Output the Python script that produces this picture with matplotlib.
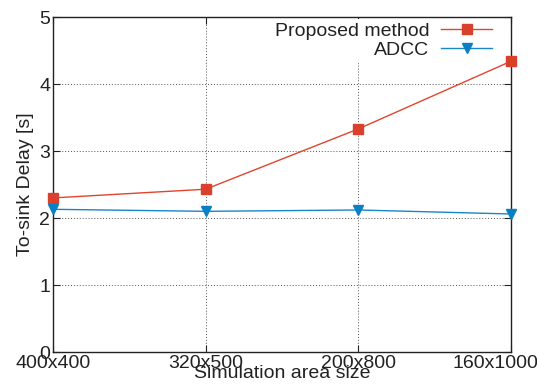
import matplotlib
matplotlib.use('Agg')
import matplotlib.pyplot as plt
from matplotlib.transforms import ScaledTranslation

plt.rcParams['font.family'] = ['Liberation Sans', 'DejaVu Sans']

areas = ['400x400', '320x500', '200x800', '160x1000']
proposed = [2.30, 2.43, 3.33, 4.34]
adcc = [2.13, 2.10, 2.12, 2.06]

fig = plt.figure(figsize=(5.37, 3.87), dpi=100)
ax = fig.add_axes([0.0987, 0.0904, 0.8529, 0.8656])

x = list(range(len(areas)))
ax.plot(x, proposed, '-', color='#e0452e', lw=1.0, marker='s', ms=6.5,
        mfc='#d9412c', mec='#d9412c', label='Proposed method', clip_on=False, zorder=3)
ax.plot(x, adcc, '-', color='#1a86c6', lw=1.0, marker='v', ms=6.5,
        mfc='#0a80c4', mec='#0a80c4', label='ADCC', clip_on=False, zorder=3)

ax.set_xlim(0, 3)
ax.set_ylim(0, 5)
ax.set_xticks(x)
ax.set_xticklabels(areas)
ax.set_yticks(range(6))
ax.grid(True, color='#555555', ls=(0, (1, 2)), lw=0.7)
ax.tick_params(direction='in', top=True, right=True, labelsize=14, colors='#222222', length=5, pad=2)
for s in ax.spines.values():
    s.set_color('#222222')
    s.set_linewidth(1.0)

# last label pushed left so it stays inside the figure (like gnuplot does)
last = ax.get_xticklabels()[-1]
last.set_transform(last.get_transform() + ScaledTranslation(-0.16, 0, fig.dpi_scale_trans))

ax.set_xlabel('Simulation area size', fontsize=14, color='#222222', labelpad=-5)
ax.set_ylabel('To-sink Delay [s]', fontsize=14, color='#222222', labelpad=4)

leg = ax.legend(loc='upper right', bbox_to_anchor=(0.967, 0.995), markerfirst=False,
                frameon=True, fontsize=14, handlelength=2.6, borderaxespad=0,
                handletextpad=0.62, labelspacing=0.05, borderpad=0.2)
leg.get_frame().set_edgecolor('none')
leg.get_frame().set_facecolor('white')
leg.get_frame().set_alpha(1.0)
for t in leg.get_texts():
    t.set_ha('right')
    t.set_color('#222222')
leg._legend_box.align = 'right'

fig.savefig('out.png', dpi=100)
